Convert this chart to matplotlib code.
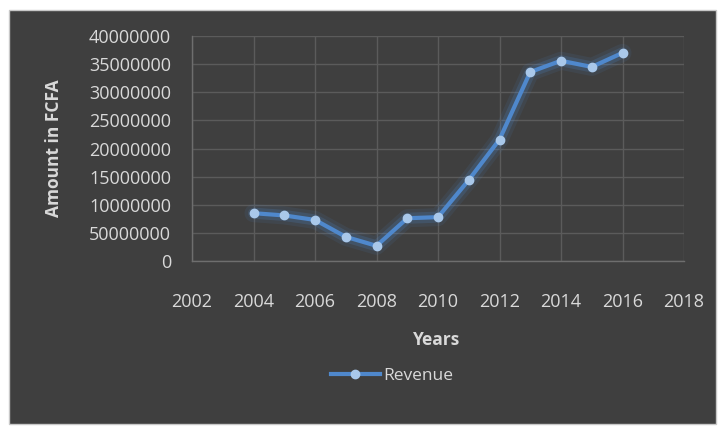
import matplotlib
matplotlib.use("Agg")
import matplotlib.pyplot as plt
from matplotlib.patches import Rectangle

# data
years = [2004, 2005, 2006, 2007, 2008, 2009, 2010, 2011, 2012, 2013, 2014, 2015, 2016]
revenue = [8500000, 8100000, 7300000, 4300000, 2700000, 7600000, 7800000,
           14400000, 21600000, 33600000, 35600000, 34500000, 37000000]
y_ticks = [0, 5000000, 10000000, 15000000, 20000000, 25000000, 30000000, 35000000, 40000000]
y_tick_labels = ["0", "50000000", "10000000", "15000000", "20000000",
                 "25000000", "30000000", "35000000", "40000000"]
x_ticks = [2002, 2004, 2006, 2008, 2010, 2012, 2014, 2016, 2018]

bg = "#3f3f3f"
txt = "#d9d9d9"
grid_c = "#5b5b5b"
line_c = "#4f88cc"
marker_c = "#a9c8ea"

plt.rcParams['font.family'] = ['Open Sans', 'DejaVu Sans']

fig = plt.figure(figsize=(7.24, 4.32), dpi=100)
fig.patch.set_facecolor("white")
fig.patches.append(Rectangle((9 / 724, 8 / 432), 707 / 724, 414 / 432,
                             transform=fig.transFigure, facecolor=bg,
                             edgecolor="#c8c8c8", linewidth=1, zorder=-5))

ax = fig.add_axes([192 / 724, 1 - 261 / 432, 492 / 724, 225 / 432])
ax.set_facecolor(bg)

# soft glow under the line
for w, a in [(13, 0.10), (8, 0.20)]:
    ax.plot(years, revenue, color=line_c, linewidth=w, alpha=a,
            solid_capstyle="round", solid_joinstyle="round")
ax.plot(years, revenue, color=line_c, linewidth=3, marker="o", markersize=6,
        markerfacecolor=marker_c, markeredgecolor=marker_c, label="Revenue")

ax.set_xlim(2002, 2018)
ax.set_ylim(0, 40000000)
ax.set_xticks(x_ticks)
ax.set_xticklabels([str(x) for x in x_ticks])
ax.set_yticks(y_ticks)
ax.set_yticklabels(y_tick_labels)
ax.grid(True, color=grid_c, linewidth=1)
ax.set_axisbelow(True)

for side in ["top", "right"]:
    ax.spines[side].set_visible(False)
for side in ["left", "bottom"]:
    ax.spines[side].set_color("#6e6e6e")
    ax.spines[side].set_linewidth(1)

ax.tick_params(axis="both", length=0, colors=txt, labelsize=13)
ax.tick_params(axis="x", pad=23)
ax.tick_params(axis="y", pad=15)

ax.set_ylabel("Amount in FCFA", color=txt, fontsize=12.5, fontweight="bold", labelpad=19)
fig.text(437 / 724, 1 - 340 / 432, "Years", color=txt, fontsize=12.5,
         fontweight="bold", ha="center", va="center")

leg = fig.legend(loc="center", bbox_to_anchor=(392 / 724, 1 - 376 / 432),
                 frameon=False, fontsize=12.5, handlelength=2.8, handletextpad=0.2)
for t in leg.get_texts():
    t.set_color(txt)

fig.savefig("out.png", dpi=100, facecolor=fig.get_facecolor())
